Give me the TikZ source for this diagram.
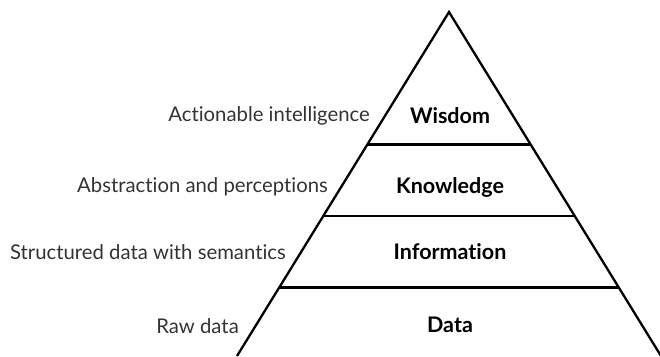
\documentclass[tikz,border=0pt]{standalone}
\usepackage{fontspec}
\setmainfont[Ligatures=NoCommon]{Lato}
\usetikzlibrary{calc}
\begin{document}
\begin{tikzpicture}[x=1pt,y=-1pt,
  edge/.style={line width=2.3pt, line join=miter},
  level/.style={line width=2.2pt},
  side/.style={anchor=east, font=\fontsize{20.3}{24}\selectfont, text=black!80, inner sep=0pt},
  tier/.style={anchor=center, font=\fontsize{21.5}{25}\selectfont\bfseries, inner sep=0pt}]
\useasboundingbox (0,0) rectangle (660,356);
\clip (0,0) rectangle (660,356);
\coordinate (apex) at (449,12);
\coordinate (bl) at (237,356);
\coordinate (br) at (661,356);
\draw[edge] (bl) -- (apex) -- (br);
% level lines at y=144.5, 216, 287.5
\coordinate (l1) at ($(apex)!0.3852!(bl)$);
\coordinate (r1) at ($(apex)!0.3852!(br)$);
\coordinate (l2) at ($(apex)!0.593!(bl)$);
\coordinate (r2) at ($(apex)!0.593!(br)$);
\coordinate (l3) at ($(apex)!0.801!(bl)$);
\coordinate (r3) at ($(apex)!0.801!(br)$);
\draw[level] (l1) -- (r1);
\draw[level] (l2) -- (r2);
\draw[level] (l3) -- (r3);
\node[tier] (wis) at (450,116) {Wisdom};
\node[tier] (kno) at (450,187) {Knowledge};
\node[tier] (inf) at (450,252) {Information};
\node[tier] (dat) at (450,325) {Data};
\node[side] (s1) at (370,116) {Actionable intelligence};
\node[side] (s2) at (328,187) {Abstraction and perceptions};
\node[side] (s3) at (286,252) {Structured data with semantics};
\node[side] (s4) at (239,326) {Raw data};
\end{tikzpicture}
\end{document}
